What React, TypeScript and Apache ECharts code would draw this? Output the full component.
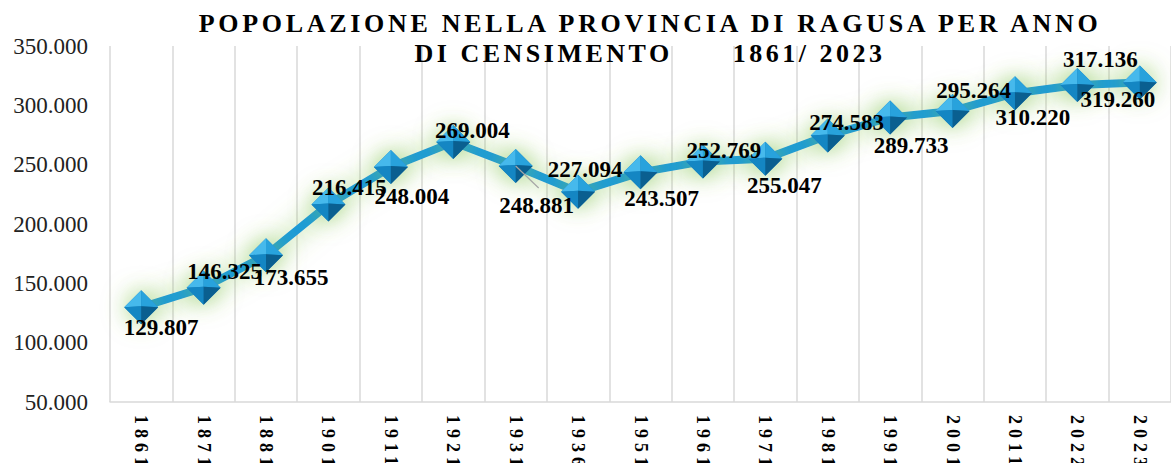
import React, { useEffect, useRef } from 'react';
import * as echarts from 'echarts';

const TITLE_LINE_1 = 'POPOLAZIONE NELLA PROVINCIA DI RAGUSA PER ANNO';
const TITLE_LINE_2 = 'DI CENSIMENTO      1861/ 2023';

const years = ['1861', '1871', '1881', '1901', '1911', '1921', '1931', '1936', '1951', '1961', '1971', '1981', '1991', '2001', '2011', '2022', '2023'];
const population = [129807, 146325, 173655, 216415, 248004, 269004, 248881, 227094, 243507, 252769, 255047, 274583, 289733, 295264, 310220, 317136, 319260];

const Y_MIN = 50000;
const Y_MAX = 350000;
const Y_STEP = 50000;

// label centre offsets (px) relative to each point
const labelOffsets: [number, number][] = [
  [20, 20], [21, -16], [25, 22], [21, -17], [21, 29], [19, -12], [21, 40], [7, -22], [21, 26],
  [21, -11], [19, 27], [19, -13], [21, 28], [21, -20], [18, 24], [23, -25], [-22, 17],
];
const leaderIndex = 6;

const SERIF = '"Liberation Serif", "Times New Roman", Times, serif';

const fmt = (v: number) => String(Math.round(v)).replace(/\B(?=(\d{3})+(?!\d))/g, '.');

export default function App() {
  const ref = useRef<HTMLDivElement>(null);

  useEffect(() => {
    const el = ref.current!;
    const chart = echarts.init(el, null, { renderer: 'svg' });

    const option: any = {
      animation: false,
      backgroundColor: '#ffffff',
      title: {
        text: TITLE_LINE_1 + '\n' + TITLE_LINE_2,
        left: 650,
        top: 8,
        padding: 0,
        textAlign: 'center',
        textStyle: {
          fontFamily: SERIF,
          fontWeight: 'bold',
          fontSize: 26,
          lineHeight: 30,
          color: '#000000',
        },
      },
      grid: { left: 110, right: -12, top: 46, bottom: 61, containLabel: false },
      xAxis: {
        type: 'category',
        data: years,
        boundaryGap: true,
        axisLine: { show: true, lineStyle: { color: '#d9d9d9', width: 1.5 } },
        axisTick: { show: false },
        splitLine: { show: true, lineStyle: { color: '#d9d9d9', width: 1.5 } },
        axisLabel: {
          interval: 0,
          rotate: -90,
          margin: 13,
          fontFamily: SERIF,
          fontWeight: 'bold',
          fontSize: 18,
          color: '#000000',
        },
      },
      yAxis: {
        type: 'value',
        min: Y_MIN,
        max: Y_MAX,
        interval: Y_STEP,
        axisLine: { show: false },
        axisTick: { show: false },
        splitLine: { show: false },
        axisLabel: {
          formatter: (v: number) => fmt(v),
          margin: 22,
          fontFamily: SERIF,
          fontSize: 23,
          color: '#222222',
        },
      },
      series: [
        {
          type: 'line',
          data: population,
          symbol: 'none',
          z: 2,
          lineStyle: {
            color: '#1c9bd7',
            width: 8,
            shadowColor: 'rgba(130,195,80,0.75)',
            shadowBlur: 26,
          },
        },
        {
          type: 'custom',
          z: 3,
          data: population.map((v, i) => [i, v]),
          renderItem: (params: any, api: any) => {
            const i = params.dataIndex;
            const val = api.value(1);
            const p = api.coord([api.value(0), val]);
            const x = p[0];
            const y = p[1];
            const h = 17;
            const top = [x, y - h];
            const right = [x + h, y];
            const bottom = [x, y + h];
            const left = [x - h, y];
            const c = [x, y - 1];
            const off = labelOffsets[i];
            const children: any[] = [
              {
                type: 'polygon',
                z2: 1,
                shape: { points: [top, right, bottom, left] },
                style: { fill: '#137fba', shadowBlur: 24, shadowColor: 'rgba(130,195,80,0.75)' },
              },
              { type: 'polygon', z2: 2, shape: { points: [top, left, c] }, style: { fill: '#46b9ec' } },
              { type: 'polygon', z2: 2, shape: { points: [top, right, c] }, style: { fill: '#28a2dc' } },
              { type: 'polygon', z2: 2, shape: { points: [left, bottom, c] }, style: { fill: '#1486c3' } },
              { type: 'polygon', z2: 2, shape: { points: [right, bottom, c] }, style: { fill: '#0a5f90' } },
              {
                type: 'text',
                z2: 10,
                x: x + off[0],
                y: y + off[1],
                style: {
                  text: fmt(val),
                  fontFamily: SERIF,
                  fontWeight: 'bold',
                  fontSize: 23,
                  fill: '#000000',
                  align: 'center',
                  verticalAlign: 'middle',
                },
              },
            ];
            if (i === leaderIndex) {
              children.push({
                type: 'line',
                z2: 3,
                shape: { x1: x, y1: y, x2: x + 23, y2: y + 22 },
                style: { stroke: '#a6a6a6', lineWidth: 1.2 },
              });
            }
            return { type: 'group', children };
          },
        },
      ],
    };

    chart.setOption(option);

    const applySpacing = () => {
      el.querySelectorAll('text').forEach((t) => {
        const s = t.textContent || '';
        if (s === TITLE_LINE_1 || s === TITLE_LINE_2) {
          t.setAttribute('xml:space', 'preserve');
          (t as any).style.whiteSpace = 'pre';
          (t as any).style.letterSpacing = s === TITLE_LINE_1 ? '3.7px' : '3.5px';
        } else if (years.includes(s)) {
          (t as any).style.letterSpacing = '5px';
        }
      });
    };
    applySpacing();
    const raf = requestAnimationFrame(applySpacing);

    return () => {
      cancelAnimationFrame(raf);
      chart.dispose();
    };
  }, []);

  return (
    <div
      ref={ref}
      style={{ position: 'absolute', left: 0, top: 0, width: 1171, height: 463, overflow: 'hidden' }}
    />
  );
}
